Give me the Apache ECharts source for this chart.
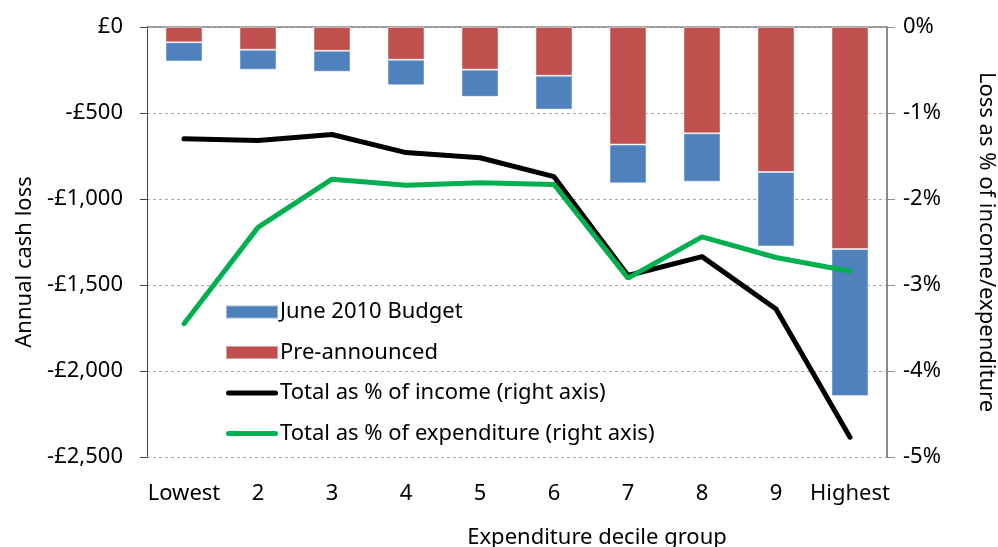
<!DOCTYPE html>
<html>
<head>
<meta charset="utf-8">
<script src="https://cdn.jsdelivr.net/npm/echarts@6/dist/echarts.min.js"></script>
<style>
  html, body { margin: 0; padding: 0; background: #fff; }
  #chart { width: 998px; height: 547px; }
</style>
</head>
<body>
<div id="chart"></div>
<script>
// decile groups
const categories = ['Lowest', '2', '3', '4', '5', '6', '7', '8', '9', 'Highest']

// £ per year (negative = loss)
const preAnnounced = [-89, -132, -138, -190, -248, -283, -683, -618, -843, -1291]
const juneBudget = [-111, -116, -122, -148, -158, -197, -226, -281, -433, -855]

// % of income / expenditure
const pctIncome = [-1.30, -1.32, -1.25, -1.46, -1.52, -1.74, -2.89, -2.67, -3.28, -4.77]
const pctExpenditure = [-3.45, -2.33, -1.77, -1.84, -1.81, -1.83, -2.92, -2.44, -2.68, -2.84]

// tick labels
const cashTicks = ['£0', '-£500', '-£1,000', '-£1,500', '-£2,000', '-£2,500']
const pctTicks = ['0%', '-1%', '-2%', '-3%', '-4%', '-5%']

const font = 'Noto Sans'
const fs = 22
const lineIcon = 'path://M2.5,0 H49.5 A2.5,2.5 0 0 1 49.5,5 H2.5 A2.5,2.5 0 0 1 2.5,0 Z'
const chart = echarts.init(document.getElementById('chart'))

const option = {
  animation: false,
  textStyle: { fontFamily: font },
  grid: { left: 147, right: 111, top: 27, bottom: 90, containLabel: false, outerBoundsMode: 'none' },
  legend: {
    orient: 'vertical',
    left: 220,
    top: 296,
    itemWidth: 52,
    itemHeight: 13,
    itemGap: 18.5,
    data: [
      { name: 'June 2010 Budget', icon: 'rect' },
      { name: 'Pre-announced', icon: 'rect' },
      { name: 'Total as % of income (right axis)', icon: lineIcon },
      { name: 'Total as % of expenditure (right axis)', icon: lineIcon }
    ],
    textStyle: { fontFamily: font, fontSize: fs, lineHeight: 22, color: '#000', padding: [0, 0, 0, -3] }
  },
  xAxis: [
    {
      type: 'category',
      position: 'top',
      data: categories,
      axisLine: { lineStyle: { color: '#858585', width: 1.5 } },
      axisTick: { inside: true, length: 6, lineStyle: { color: '#858585' } },
      axisLabel: { show: false }
    },
    {
      type: 'category',
      position: 'bottom',
      data: categories,
      axisLine: { show: false },
      axisTick: { show: false },
      axisLabel: { fontFamily: font, fontSize: fs, color: '#000', margin: 26, interval: 0 },
      name: 'Expenditure decile group',
      nameLocation: 'middle',
      nameGap: 70,
      nameTextStyle: { fontFamily: font, fontSize: fs, color: '#000', padding: [0, 0, 0, 160] }
    }
  ],
  yAxis: [
    {
      type: 'value',
      min: -2500,
      max: 0,
      interval: 500,
      name: 'Annual cash loss',
      nameLocation: 'middle',
      nameRotate: 90,
      nameGap: 110,
      nameTextStyle: { fontFamily: font, fontSize: fs, color: '#000', padding: [0, 40, 0, 0] },
      axisLine: { show: true, lineStyle: { color: '#404040', width: 1 } },
      axisTick: { show: true, length: 7, lineStyle: { color: '#404040' } },
      axisLabel: {
        fontFamily: font, fontSize: fs, color: '#000', margin: 24,
        formatter: (v) => cashTicks[Math.round(-v / 500)]
      },
      splitLine: { show: true, lineStyle: { color: '#a6a6a6', type: [3, 3], width: 1 } }
    },
    {
      type: 'value',
      min: -5,
      max: 0,
      interval: 1,
      name: 'Loss as % of income/expenditure',
      nameLocation: 'middle',
      nameRotate: -90,
      nameGap: 88,
      nameTextStyle: { fontFamily: font, fontSize: fs, color: '#000' },
      axisLine: { show: true, lineStyle: { color: '#8a8a8a', width: 2 } },
      axisTick: { show: true, length: 8, lineStyle: { color: '#8a8a8a' } },
      axisLabel: {
        fontFamily: font, fontSize: fs, color: '#000', margin: 16,
        formatter: (v) => pctTicks[Math.round(-v)]
      },
      splitLine: { show: false }
    }
  ],
  series: [
    {
      name: 'Pre-announced',
      type: 'bar',
      stack: 'cash',
      data: preAnnounced,
      barWidth: 37,
      itemStyle: { color: '#C0504D', borderColor: 'rgba(255,255,255,0.45)', borderWidth: 1 }
    },
    {
      name: 'June 2010 Budget',
      type: 'bar',
      stack: 'cash',
      data: juneBudget,
      barWidth: 37,
      itemStyle: { color: '#4F81BD', borderColor: 'rgba(255,255,255,0.45)', borderWidth: 1 }
    },
    {
      name: 'Total as % of income (right axis)',
      type: 'line',
      yAxisIndex: 1,
      data: pctIncome,
      symbol: 'none',
      itemStyle: { color: '#000' },
      lineStyle: { color: '#000', width: 5, cap: 'round' }
    },
    {
      name: 'Total as % of expenditure (right axis)',
      type: 'line',
      yAxisIndex: 1,
      data: pctExpenditure,
      symbol: 'none',
      itemStyle: { color: '#00B050' },
      lineStyle: { color: '#00B050', width: 5, cap: 'round' }
    }
  ]
}

chart.setOption(option)
</script>
</body>
</html>
